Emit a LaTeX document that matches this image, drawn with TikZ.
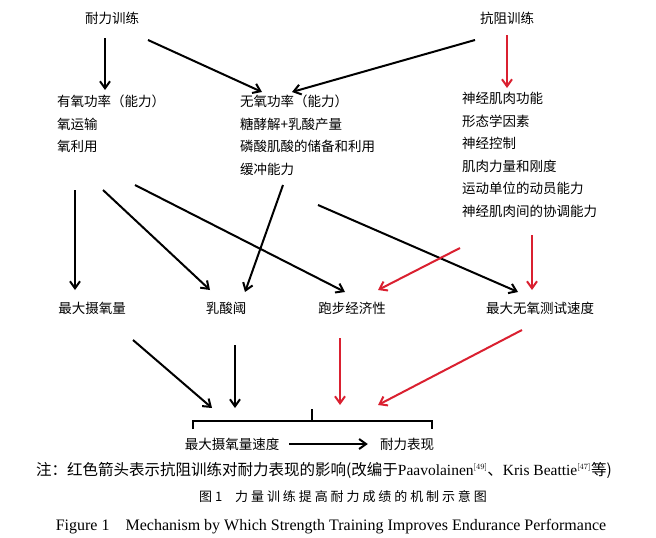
\documentclass[tikz,border=0pt]{standalone}
\usepackage{fontspec}
\setmainfont{Liberation Serif}
\newfontfamily\cjk{Noto Sans CJK SC}
\usetikzlibrary{arrows.meta,calc}
\definecolor{arrred}{RGB}{218,32,48}
\begin{document}
\begin{tikzpicture}
[x=1pt,y=-1pt,
  txtdecorate/.style={inner sep=0pt,font=\cjk\fontsize{13.5}{16}\selectfont},
  blockdecorate/.style={txtdecorate,align=left,anchor=north west,font=\cjk\fontsize{13.5}{22.5}\selectfont},
  linedecorate/.style={-{Straight Barb[length=7pt,width=10pt]},line width=2pt,black},
  reddecorate/.style={linedecorate,arrred}]
\useasboundingbox (0,0) rectangle (656,538);
%%% training types
\node (endu) at (112,18) [txtdecorate] {耐力训练};
\node (resi) at (507,18) [txtdecorate] {抗阻训练};
%%% mechanisms
\node (aero) at (57,95) [blockdecorate] {有氧功率（能力）\\氧运输\\氧利用};
\node (anae) at (240,95) [blockdecorate] {无氧功率（能力）\\糖酵解+乳酸产量\\磷酸肌酸的储备和利用\\缓冲能力};
\node (neur) at (462,92) [blockdecorate] {神经肌肉功能\\形态学因素\\神经控制\\肌肉力量和刚度\\运动单位的动员能力\\神经肌肉间的协调能力};
%%% outcomes
\node (vo2) at (92,308) [txtdecorate] {最大摄氧量};
\node (lt) at (226,308) [txtdecorate] {乳酸阈};
\node (econ) at (352,308) [txtdecorate] {跑步经济性};
\node (vmax) at (540,308) [txtdecorate] {最大无氧测试速度};
\node (vvo2) at (232,444) [txtdecorate] {最大摄氧量速度};
\node (perf) at (407,444) [txtdecorate] {耐力表现};
% bracket
\coordinate (bl) at (193,429); \coordinate (br) at (432,429);
\coordinate (bm) at (312,409);
\draw[line width=2pt] (bl) -- ++(0,-8) -- ($(br)+(0,-8)$) -- (br);
\draw[line width=2pt] (bm) -- ++(0,12);
% arrows
\path
(105,38) edge[linedecorate] (105,90)
(148,40) edge[linedecorate] (262,92)
(475,40) edge[linedecorate] (292,92)
(507,35) edge[reddecorate] (507,88)
(75,190) edge[linedecorate] (75,290)
(103,190) edge[linedecorate] (210,290)
(135,185) edge[linedecorate] (345,292)
(283,185) edge[linedecorate] (245,292)
(318,205) edge[linedecorate] (518,292)
(460,248) edge[reddecorate] (378,290)
(532,235) edge[reddecorate] (532,290)
(133,340) edge[linedecorate] (212,408)
(235,345) edge[linedecorate] (235,408)
(340,338) edge[reddecorate] (340,405)
(522,330) edge[reddecorate] (378,405);
\draw[linedecorate] ($(vvo2.east)+(10,0)$) -- ($(perf.west)+(-12,0)$);
%%% captions
\node (note) at (324,470) [inner sep=0pt,font=\fontsize{15.5}{18}\selectfont] {{\cjk 注：红色箭头表示抗阻训练对耐力表现的影响(改编于}Paavolainen$^{\scriptscriptstyle[49]}${\cjk 、}Kris Beattie$^{\scriptscriptstyle[47]}${\cjk 等)}};
\node (fig) at (343,497) [inner sep=0pt,font=\cjk\fontsize{13}{15}\selectfont] {图 1\quad 力 量 训 练 提 高 耐 力 成 绩 的 机 制 示 意 图};
\node (eng) at (331,527) [inner sep=0pt,font=\fontsize{16}{18}\selectfont] {Figure 1\quad Mechanism by Which Strength Training Improves Endurance Performance};
\end{tikzpicture}
\end{document}
